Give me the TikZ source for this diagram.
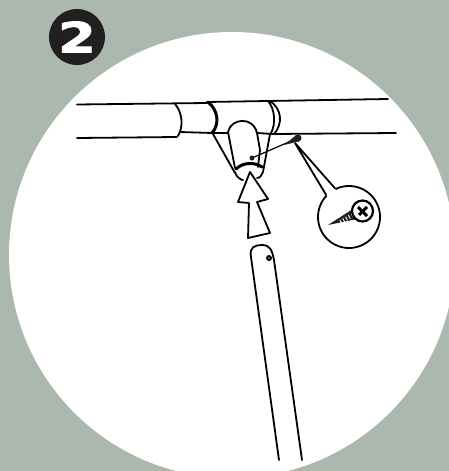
\documentclass[tikz,border=0pt]{standalone}
\usepackage{xcolor}
\usepackage{fontspec}
\newfontfamily\badgefont[FakeBold=1.6]{DejaVu Sans Bold}
\usepackage{tikz}
\usetikzlibrary{calc}
\definecolor{sage}{HTML}{ABB8AE}
\definecolor{badgeblack}{HTML}{231F20}
\tikzset{
    inkline/.style={line width=1.8pt, line cap=round, line join=round},
    heavyline/.style={line width=3pt, line cap=round},
    thinline/.style={line width=1.2pt, line cap=round}
}
\begin{document}
\begin{tikzpicture}[x=1pt, y=-1pt]
% Draw background
\useasboundingbox (0,0) rectangle (448,471);
\fill[sage] (-2,-2) rectangle (450,473);
\fill[white] (232,255) circle[radius=223pt];
\node[circle, fill=badgeblack, minimum size=56pt, inner sep=0pt, text=white] (badge) at (77,37)
    {\badgefont\fontsize{42}{42}\selectfont\scalebox{1.3}[1]{2}};
% Draw left pipe
\draw[inkline] (77,104.5) -- (207,103);
\draw[inkline] (77,138) -- (177,137);
\draw[inkline] (175,104) .. controls (182,112) and (184,126) .. (178,136);
\draw[inkline] (180,132) -- (212,133);
% Draw right pipe
\draw[inkline] (207,102) -- (388,99);
\draw[inkline] (273,134) -- (396,133);
% Draw tee
\draw[heavyline] (208,102) .. controls (218,110) and (220,124) .. (212,133);
\draw[inkline] (268,101) .. controls (275,109) and (276,124) .. (271,133);
\draw[inkline] (270,101) .. controls (282,109) and (283,124) .. (274,134);
\draw[inkline] (212,133) -- (228,133);
\draw[inkline] (257,133) -- (273,134);
\draw[inkline] (213,134) -- (235,173);
\draw[inkline] (270,134) -- (263,172);
% Draw collar
\draw[inkline] (235,168) -- (228,132) .. controls (231,118) and (253,116) .. (257,133) -- (260,150) -- (258,167);
\draw[heavyline] (236,169) .. controls (243,162) and (255,162) .. (262,167);
\draw[inkline] (235,172) .. controls (236,177) and (241,180) .. (243,180);
\draw[inkline] (263,172) .. controls (262,175) and (260,178) .. (257,178);
% Draw arrow
\draw[inkline, fill=white] (250,172) -- (268,199) -- (257,202) -- (270,233) -- (248,238) -- (249,203) -- (238,202) -- cycle;
% Draw screw marker
\node[circle, fill=badgeblack, inner sep=0pt, minimum size=5pt] (collarhole) at (252,158) {};
\node[circle, fill=badgeblack, inner sep=0pt, minimum size=7pt] (screwhole) at (298,138) {};
\draw[thinline] (collarhole) -- (screwhole);
\fill[badgeblack] (284,145) -- (297,134.5) -- (300,141) -- cycle;
% Draw callout
\node[circle, draw, line width=1.8pt, fill=white, minimum size=62pt, inner sep=0pt] (magnifier) at (349,217) {};
\coordinate (pointer) at (295,143);
\fill[white] (magnifier.136) -- (pointer) -- (magnifier.116) -- (magnifier.center) -- cycle;
\draw[inkline] (magnifier.136) -- (pointer) -- (magnifier.116);
% Draw screw
\fill[badgeblack] (328,225) -- (353,209) -- (357,219) -- cycle;
\foreach \i in {1,2,3,4,5} {
    \draw[white, line width=0.9pt] ($(337,221.5)!\i/6!(354,212)$) -- ++(2,3.5);
}
\draw[line width=2.2pt, fill=white] (362.5,211) ellipse[x radius=10.5pt, y radius=10.5pt];
\draw[line width=3pt] (358,207) -- (367,216);
\draw[line width=3pt] (367,207) -- (359,215);
% Draw lower tube
\draw[inkline] (279,460) -- (251,257) .. controls (249,247) and (255,245) .. (262,245)
    .. controls (270,245) and (272,250) .. (274,260) -- (302,460);
\node[circle, draw, line width=1.8pt, fill=white!50!black, inner sep=0pt, minimum size=4pt] (tubehole) at (269,258) {};
\end{tikzpicture}
\end{document}
